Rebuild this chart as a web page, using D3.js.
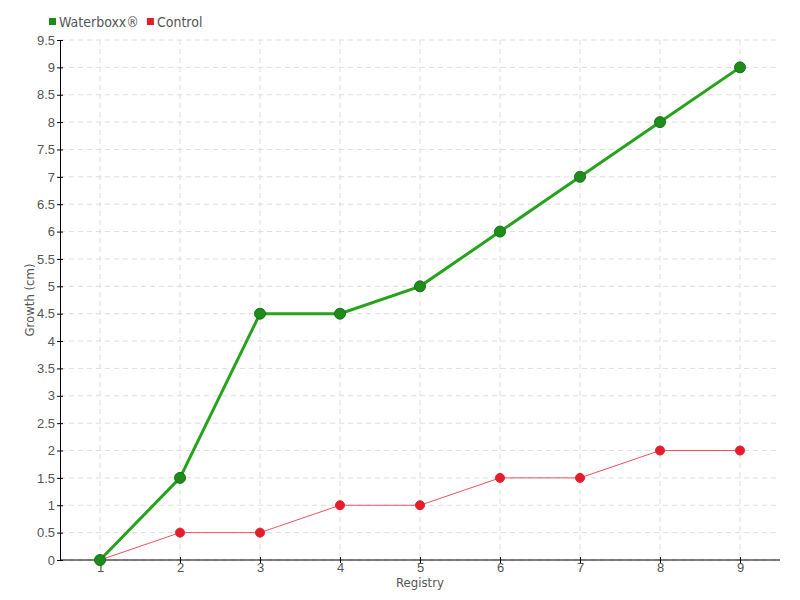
<!DOCTYPE html>
<html>
<head>
<meta charset="utf-8">
<script src="https://cdn.jsdelivr.net/npm/d3@7"></script>
<style>
  body { margin: 0; background: #fff; }
  svg { font-family: "DejaVu Sans Condensed", "DejaVu Sans", sans-serif; }
  .grid line { stroke: #ddd; stroke-dasharray: 5,4; }
  .axis text { fill: #555; font-size: 13px; }
  .axis path, .axis line { stroke: #000; }
</style>
</head>
<body>
<div id="chart"></div>
<script>
const WIDTH = 800;
const HEIGHT = 600;
const MARGIN = { top: 40, right: 20, bottom: 40, left: 60 };

const registries = [1, 2, 3, 4, 5, 6, 7, 8, 9];
const waterboxx = [0, 1.5, 4.5, 4.5, 5, 6, 7, 8, 9];
const control = [0, 0.5, 0.5, 1, 1, 1.5, 1.5, 2, 2];
const yTicks = d3.range(0, 9.51, 0.5);

const series = [
  { name: "Waterboxx®", values: waterboxx, color: "#26a21c", dot: "#1f8c1a", dotStroke: "#17701a", width: 3, r: 5.5 },
  { name: "Control", values: control, color: "#f0505e", dot: "#e41c2c", dotStroke: "#e41c2c", width: 1, r: 4.5 }
];

const svg = d3.select("#chart").append("svg")
  .attr("width", WIDTH)
  .attr("height", HEIGHT);

const x = d3.scalePoint()
  .domain(registries)
  .range([MARGIN.left, WIDTH - MARGIN.right])
  .padding(0.5);

const y = d3.scaleLinear()
  .domain([0, 9.5])
  .range([HEIGHT - MARGIN.bottom, MARGIN.top]);

// grid
const grid = svg.append("g").attr("class", "grid");
grid.selectAll(".h").data(yTicks).join("line")
  .attr("x1", MARGIN.left).attr("x2", WIDTH - MARGIN.right)
  .attr("y1", d => y(d)).attr("y2", d => y(d));
grid.selectAll(".v").data(registries).join("line")
  .attr("x1", d => x(d)).attr("x2", d => x(d))
  .attr("y1", MARGIN.top).attr("y2", HEIGHT - MARGIN.bottom);

// axes (ticks cross the axis line)
svg.append("g")
  .attr("class", "axis")
  .attr("transform", `translate(0,${HEIGHT - MARGIN.bottom})`)
  .call(d3.axisBottom(x).tickSize(3).tickPadding(0))
  .call(g => g.select(".domain").attr("d", `M${MARGIN.left},0H${WIDTH - MARGIN.right}`))
  .call(g => g.selectAll(".tick line").attr("y1", -3));

svg.append("g")
  .attr("class", "axis")
  .attr("transform", `translate(${MARGIN.left},0)`)
  .call(d3.axisLeft(y).tickValues(yTicks).tickSize(3).tickSizeOuter(0).tickPadding(2).tickFormat(d3.format("")))
  .call(g => g.selectAll(".tick line").attr("x1", 3));

// axis titles
svg.append("text")
  .attr("x", (MARGIN.left + WIDTH - MARGIN.right) / 2)
  .attr("y", 587)
  .attr("text-anchor", "middle")
  .attr("fill", "#555")
  .style("font-size", "13px")
  .text("Registry");

svg.append("text")
  .attr("transform", `translate(34,${(MARGIN.top + HEIGHT - MARGIN.bottom) / 2}) rotate(-90)`)
  .attr("text-anchor", "middle")
  .attr("fill", "#555")
  .style("font-size", "13px")
  .text("Growth (cm)");

// lines
const line = d3.line()
  .x((d, i) => x(registries[i]))
  .y(d => y(d));

series.slice().reverse().forEach(s => {
  svg.append("path")
    .datum(s.values)
    .attr("fill", "none")
    .attr("stroke", s.color)
    .attr("stroke-width", s.width)
    .attr("d", line);
});
series.slice().reverse().forEach(s => {
  svg.append("g").selectAll("circle")
    .data(s.values)
    .join("circle")
    .attr("cx", (d, i) => x(registries[i]))
    .attr("cy", d => y(d))
    .attr("r", s.r)
    .attr("fill", s.dot)
    .attr("stroke", s.dotStroke)
    .attr("stroke-width", 1);
});

// legend
const legend = svg.append("g").attr("transform", "translate(49,22)");
let lx = 0;
series.forEach(s => {
  const item = legend.append("g").attr("transform", `translate(${lx},0)`);
  item.append("rect")
    .attr("x", 0).attr("y", -4)
    .attr("width", 7).attr("height", 7)
    .attr("fill", s.dot);
  const t = item.append("text")
    .attr("x", 10).attr("y", 5)
    .attr("fill", "#555")
    .style("font-size", "14px")
    .text(s.name);
  lx += 10 + t.node().getComputedTextLength() + 8;
});
</script>
</body>
</html>
